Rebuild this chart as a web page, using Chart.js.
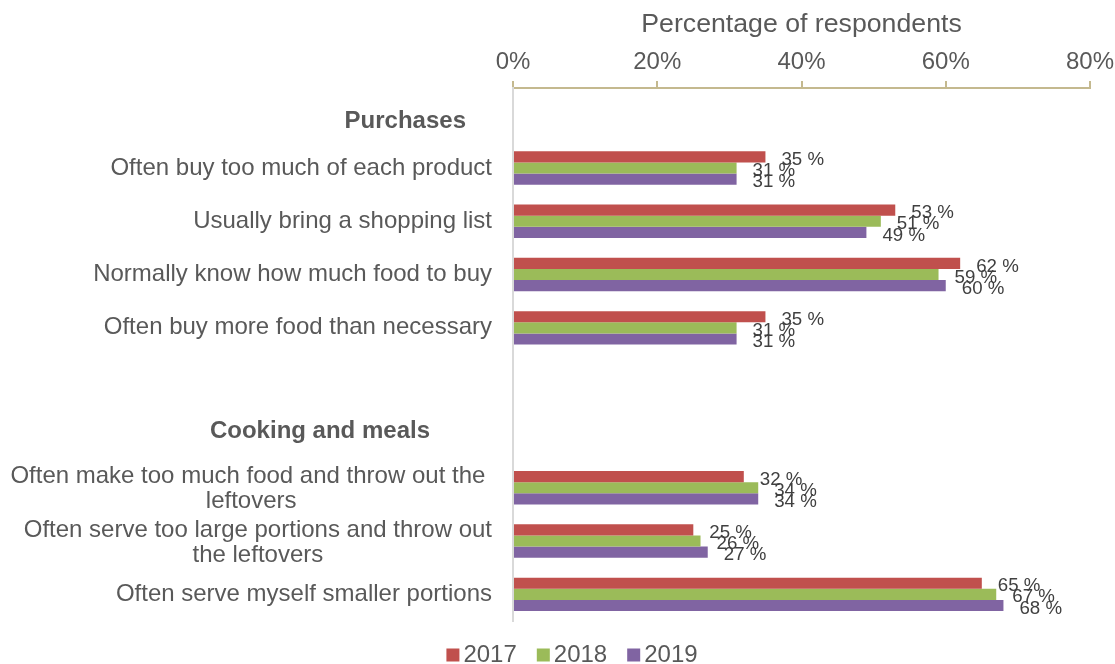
<!DOCTYPE html>
<html>
<head>
<meta charset="utf-8">
<script src="https://cdn.jsdelivr.net/npm/chart.js@4/dist/chart.umd.min.js"></script>
<style>
  html, body { margin: 0; padding: 0; background: #ffffff; }
  #wrap { width: 1115px; height: 664px; position: relative; }
</style>
</head>
<body>
<div id="wrap"><canvas id="chart" width="1115" height="664"></canvas></div>
<script>
// Row labels (section headers, items and one spacer row)
const categories = [
  'Purchases',
  'Often buy too much of each product',
  'Usually bring a shopping list',
  'Normally know how much food to buy',
  'Often buy more food than necessary',
  '',
  'Cooking and meals',
  ['Often make too much food and throw out the ', 'leftovers'],
  ['Often serve too large portions and throw out', 'the leftovers'],
  'Often serve myself smaller portions'
];
const sectionHeaders = ['Purchases', 'Cooking and meals'];

// Share of respondents (%) per survey year
const years = ['2017', '2018', '2019'];
const values2017 = [null, 35, 53, 62, 35, null, null, 32, 25, 65];
const values2018 = [null, 31, 51, 59, 31, null, null, 34, 26, 67];
const values2019 = [null, 31, 49, 60, 31, null, null, 34, 27, 68];

const axisTicks = [0, 20, 40, 60, 80];
const axisTitle = 'Percentage of respondents';

const FONT = "'Liberation Sans', Arial, sans-serif";
const TEXT = '#595959';
const COLORS = ['#C0504D', '#9BBB59', '#8064A2'];

// Header placement (right edge, vertical nudge)
const headerStyle = {
  'Purchases': { right: 466, dy: 7 },
  'Cooking and meals': { right: 430, dy: -3 }
};

const rowLabelsPlugin = {
  id: 'rowLabels',
  afterDraw(chart) {
    const ctx = chart.ctx;
    const y = chart.scales.y;
    const right = 492;
    ctx.save();
    ctx.fillStyle = TEXT;
    ctx.textBaseline = 'middle';
    categories.forEach((lab, i) => {
      const py = y.getPixelForValue(i);
      if (sectionHeaders.includes(lab)) {
        const st = headerStyle[lab];
        ctx.font = 'bold 24px ' + FONT;
        ctx.textAlign = 'right';
        ctx.fillText(lab, st.right, py + st.dy);
        return;
      }
      ctx.font = '24px ' + FONT;
      if (Array.isArray(lab)) {
        const lh = 25;
        const w = Math.max(...lab.map(l => ctx.measureText(l).width));
        const cx = right - w / 2;
        ctx.textAlign = 'center';
        lab.forEach((l, k) => {
          ctx.fillText(l, cx, py + 1.5 + (k - (lab.length - 1) / 2) * lh);
        });
      } else if (lab) {
        ctx.textAlign = 'right';
        ctx.fillText(lab, right, py);
      }
    });
    ctx.restore();
  }
};

const valueLabelsPlugin = {
  id: 'valueLabels',
  afterDatasetsDraw(chart) {
    const ctx = chart.ctx;
    ctx.save();
    ctx.font = '18.7px ' + FONT;
    ctx.fillStyle = '#404040';
    ctx.textAlign = 'left';
    ctx.textBaseline = 'middle';
    chart.data.datasets.forEach((ds, di) => {
      const meta = chart.getDatasetMeta(di);
      meta.data.forEach((bar, i) => {
        const v = ds.data[i];
        if (v === null || v === undefined) return;
        ctx.fillText(v + ' %', bar.x + 16, bar.y + 3);
      });
    });
    ctx.restore();
  }
};

const legendPlugin = {
  id: 'bottomLegend',
  afterDraw(chart) {
    const ctx = chart.ctx;
    ctx.save();
    ctx.font = '24px ' + FONT;
    ctx.textBaseline = 'middle';
    ctx.textAlign = 'left';
    const box = 13, gapText = 4, gapItem = 20;
    const items = chart.data.datasets.map(ds => ({
      label: ds.label, color: ds.backgroundColor,
      w: box + gapText + ctx.measureText(ds.label).width
    }));
    const total = items.reduce((s, it) => s + it.w, 0) + gapItem * (items.length - 1);
    let x = 572 - total / 2;
    const cy = 655;
    items.forEach(it => {
      ctx.fillStyle = it.color;
      ctx.fillRect(x, cy - box / 2, box, box);
      ctx.fillStyle = TEXT;
      ctx.fillText(it.label, x + box + gapText, cy);
      x += it.w + gapItem;
    });
    ctx.restore();
  }
};

const seriesValues = [values2017, values2018, values2019];

new Chart(document.getElementById('chart'), {
  type: 'bar',
  data: {
    labels: categories,
    datasets: years.map((yr, k) => ({
      label: yr,
      data: seriesValues[k],
      backgroundColor: COLORS[k],
      borderWidth: 0,
      categoryPercentage: 0.627,
      barPercentage: 1.0
    }))
  },
  options: {
    indexAxis: 'y',
    responsive: false,
    animation: false,
    devicePixelRatio: 1,
    layout: { padding: { top: 0, right: 25, bottom: 43, left: 0 } },
    plugins: {
      legend: { display: false },
      tooltip: { enabled: false }
    },
    scales: {
      x: {
        position: 'top',
        min: axisTicks[0],
        max: axisTicks[axisTicks.length - 1],
        afterBuildTicks(scale) {
          scale.ticks = axisTicks.map(v => ({ value: v }));
        },
        afterFit(scale) {
          scale.height = 88;
          scale.paddingLeft = 0;
          scale.paddingRight = 0;
        },
        ticks: {
          callback: v => v + '%',
          font: { family: FONT, size: 24 },
          color: TEXT,
          padding: 4,
          maxRotation: 0
        },
        grid: {
          drawOnChartArea: false,
          drawTicks: true,
          tickLength: 7,
          color: '#C4B98F',
          lineWidth: 2
        },
        border: { display: true, color: '#C4B98F', width: 2 },
        title: {
          display: true,
          text: axisTitle,
          font: { family: FONT, size: 26.7 },
          color: TEXT,
          padding: { top: 9, bottom: 0 }
        }
      },
      y: {
        afterFit(scale) { scale.width = 513; },
        ticks: { display: false },
        grid: { display: false, drawTicks: false },
        border: { display: true, color: '#D9D9D9', width: 2 }
      }
    }
  },
  plugins: [rowLabelsPlugin, valueLabelsPlugin, legendPlugin]
});
</script>
</body>
</html>
